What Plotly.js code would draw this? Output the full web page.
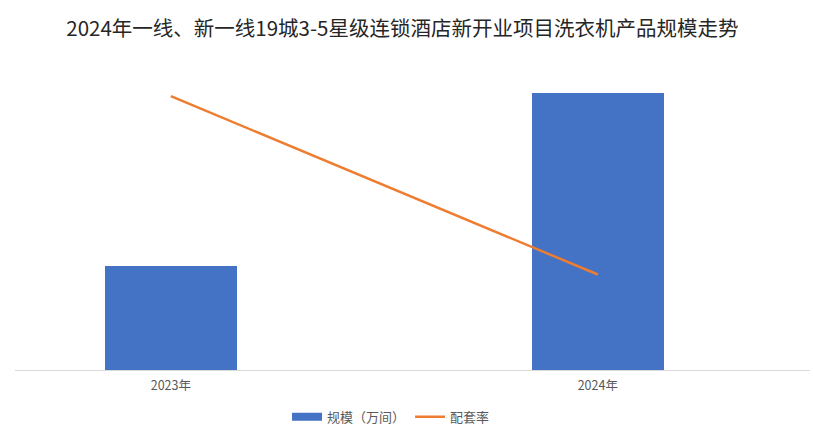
<!DOCTYPE html>
<html><head><meta charset="utf-8">
<script src="https://cdn.plot.ly/plotly-3.0.1.min.js"></script>
<style>body{margin:0;background:#fff}#c{width:813px;height:440px}</style>
</head><body><div id="c"></div>
<script>
const categories = ['2023年', '2024年'];
const scaleValues = [1.5, 4.0];      // 规模（万间）(estimated)
const rateValues = [0.86, 0.30];     // 配套率 (estimated)
const seriesNames = ['规模（万间）', '配套率'];
const titleText = '2024年一线、新一线19城3-5星级连锁酒店新开业项目洗衣机产品规模走势';

const font = '"Noto Sans CJK SC", "Noto Sans", sans-serif';
const data = [
  {type:'bar', x:[0,1], y:scaleValues, name:seriesNames[0], width:0.31,
   marker:{color:'#4472C4'}, hoverinfo:'skip', showlegend:false},
  {type:'scatter', mode:'lines', x:[null], y:[null], name:seriesNames[0],
   line:{color:'#4472C4', width:8}, hoverinfo:'skip'},
  {type:'scatter', mode:'lines', x:[0,1], y:rateValues, name:seriesNames[1], yaxis:'y2',
   line:{color:'#ED7D31', width:2.5}, hoverinfo:'skip'}
];
const layout = {
  width:813, height:440, paper_bgcolor:'#fff', plot_bgcolor:'#fff',
  margin:{l:15, r:3, t:58, b:70},
  font:{family:font, color:'#595959'},
  title:{text:titleText, x:0.495, xanchor:'center', y:0.935, yanchor:'middle',
         font:{family:font, size:20.5, color:'#262626', weight:'normal'}},
  xaxis:{range:[-0.365,1.497], tickvals:[0,1], ticktext:categories, showgrid:false,
         zeroline:false, showline:true, linecolor:'#d9d9d9', linewidth:1, ticks:'',
         ticklabelstandoff:4, tickfont:{size:12.5, color:'#595959'}},
  yaxis:{range:[0,4.5], visible:false, showgrid:false, zeroline:false},
  yaxis2:{range:[0,0.98], overlaying:'y', side:'right', visible:false, showgrid:false, zeroline:false},
  showlegend:true,
  legend:{orientation:'h', x:0.473, xanchor:'center', y:-0.15, yanchor:'middle',
          font:{size:13, color:'#595959'}, itemwidth:30, traceorder:'normal'},
  bargap:0
};
Plotly.newPlot('c', data, layout, {staticPlot:true, displayModeBar:false});
</script></body></html>
